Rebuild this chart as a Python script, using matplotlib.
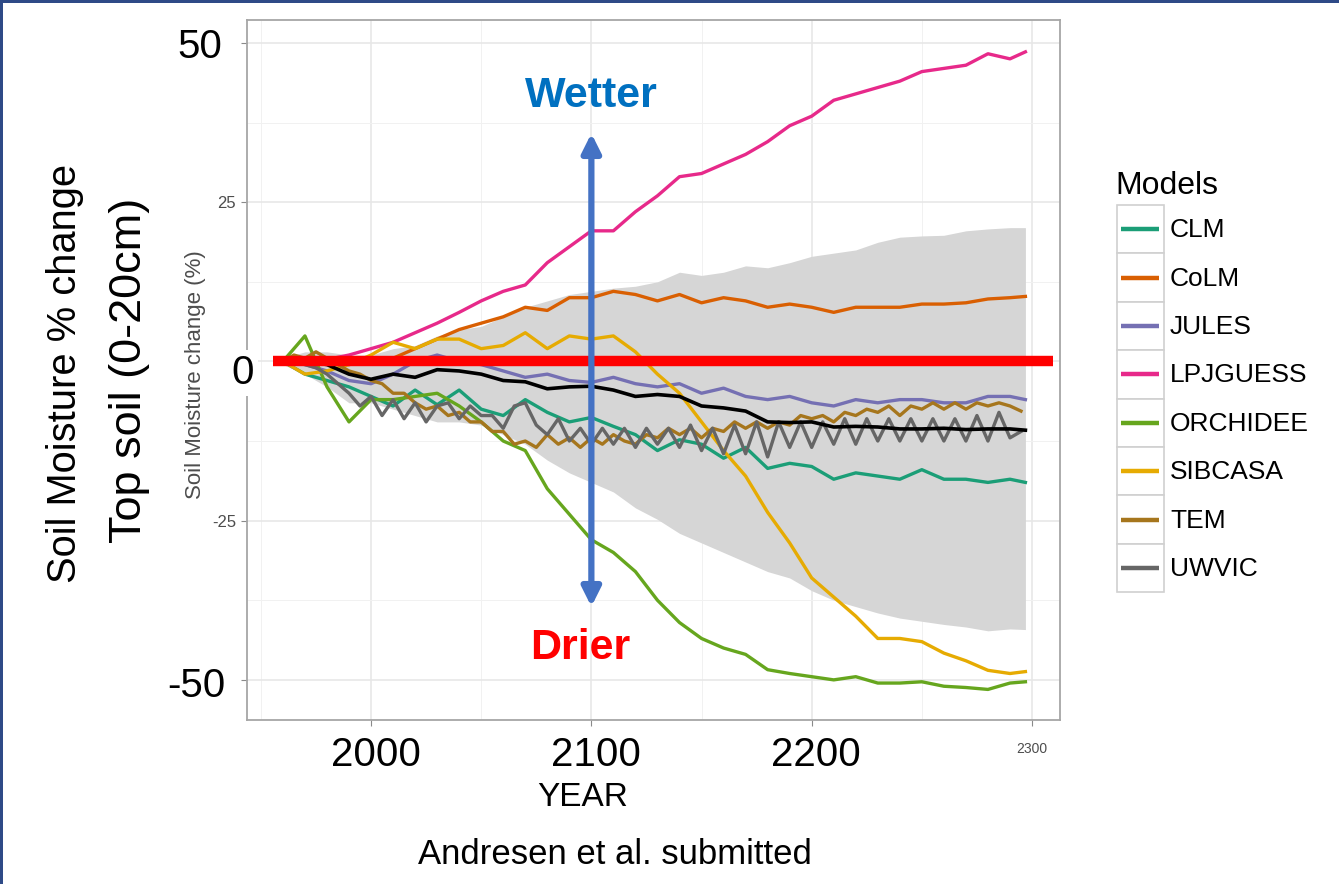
import matplotlib
matplotlib.use("Agg")
import matplotlib.pyplot as plt
from matplotlib.patches import Rectangle
import numpy as np

plt.rcParams['font.family'] = ['Liberation Sans', 'DejaVu Sans']

# 10-year grid (last point is end of run)
years = list(range(1960, 2300, 10)) + [2297]
# 5-year grid for the two oscillating models
years5 = list(range(1960, 2300, 5))

clm = [0, -2, -3, -4, -5.5, -7, -4.5, -6.8, -4.5, -7.5, -8.5, -6, -8, -9.5, -8.8, -10.2, -11.5,
       -14, -12.3, -13, -15.2, -13.5, -16.8, -16, -16.5, -18.5, -17.5, -18, -18.5, -17, -18.5,
       -18.5, -19, -18.5, -19]
colm = [0, 0.5, 0, -0.5, 0, 0.5, 2, 3.5, 5, 6, 7, 8.5, 8, 10, 10, 11, 10.5, 9.5, 10.5, 9.2, 10,
        9.5, 8.5, 9, 8.5, 7.7, 8.5, 8.5, 8.5, 9, 9, 9.2, 9.8, 10, 10.2]
jules = [0, -0.5, -1.5, -3, -3.5, -2, 0, 1, 0, -0.5, -1.5, -2.5, -2, -3, -3.3, -2.5, -3.5, -4,
         -3.5, -5, -4.2, -5.5, -6, -5.5, -6.5, -7, -6, -6.5, -6, -6, -6.5, -6.5, -5.5, -5.5, -6]
lpjguess = [0, 0, 0.3, 1, 2, 3, 4.5, 6, 7.7, 9.5, 11, 12, 15.5, 18, 20.5, 20.5, 23.5, 26, 29,
            29.5, 31, 32.5, 34.5, 37, 38.5, 41, 42, 43, 44, 45.5, 46, 46.5, 48.3, 47.5, 48.6]
orchidee = [0, 4, -4, -9.5, -6, -6, -5.5, -5, -7, -9.5, -12.5, -14, -20, -24, -28, -30, -33,
            -37.5, -41, -43.5, -45, -46, -48.4, -49, -49.5, -50, -49.5, -50.5, -50.5, -50.3,
            -51, -51.2, -51.5, -50.5, -50.3]
sibcasa = [0, -2, -1.5, -0.5, 1, 3, 2, 3.5, 3.5, 2, 2.5, 4.5, 2, 4, 3.5, 4, 1.5, -2, -5, -9.5,
           -14, -18, -23.7, -28.5, -34, -37, -40, -43.5, -43.5, -44, -45.8, -47, -48.5, -49,
           -48.7]
tem = [0, 1, 0.5, 1.5, 0.5, -0.5, -1.5, -2, -3, -3.5, -5, -5, -6.5, -7.5, -7, -8.5, -8, -9.5,
       -9.5, -11, -11, -13, -12.5, -13.5, -11.5, -13, -12, -13.5, -12, -13, -11.5, -12.5, -13,
       -11.5, -12, -10.5, -11.5, -10.5, -12, -10.5, -11, -9.5, -10.5, -9.5, -10.5, -9.5, -10,
       -8.5, -9, -8.5, -9.5, -8, -8.5, -7.5, -8, -7, -8.5, -7, -7.5, -6.5, -7.5, -6.5, -7.5,
       -6.5, -7, -6.5, -7, -7.8]
uwvic = [0, 0.5, -0.5, -1, -2, -3.5, -5, -7, -5.5, -8.5, -6, -9, -6.5, -9.5, -7, -6.5, -9, -7,
         -8.5, -8.5, -10.5, -7, -6.5, -10, -11.5, -9, -12.5, -10.5, -13, -10.5, -13, -10.5,
         -13.5, -10.5, -13, -10.5, -13.5, -10, -14, -10.5, -14.5, -10, -14.5, -9.5, -15, -9.5,
         -13.5, -9.5, -13.5, -9.5, -13, -9, -13, -9, -12.5, -9, -12.5, -9, -12.5, -9, -12.5,
         -9, -12.5, -8.5, -12.5, -8, -12, -11]

ens_mean = [0, 0, -0.5, -2, -2.8, -2, -2.5, -1.3, -1.5, -2, -3, -3.2, -4.3, -4, -3.9, -4.5,
            -5.5, -5.2, -5.5, -7, -7.3, -7.8, -9.5, -9.6, -9.5, -10.3, -10.2, -10.3, -10.6,
            -10.6, -10.5, -10.7, -10.6, -10.6, -10.8]
band_hi = [0.5, 1.5, 1.5, 1, 1, 2, 2.5, 4, 5, 5.5, 7, 8.5, 9.5, 10.5, 11, 11.5, 11.8, 12.5, 14,
           13.5, 14, 15, 14.7, 15.5, 16.5, 17, 17.5, 18.7, 19.5, 19.7, 19.8, 20.5, 20.8, 21, 21]
band_lo = [-0.5, -2, -4, -6.5, -6.5, -7.5, -8.5, -9.5, -9.5, -10, -11.5, -13, -15.5, -17.5, -19,
           -20.5, -23, -24.8, -27, -28.5, -30, -31.5, -33, -34, -36, -37.5, -38.5, -39.5, -40.3,
           -40.8, -41.3, -41.7, -42.3, -42, -42.1]

models = ["CLM", "CoLM", "JULES", "LPJGUESS", "ORCHIDEE", "SIBCASA", "TEM", "UWVIC"]
colors = ["#1B9E77", "#D95F02", "#7570B3", "#E7298A", "#66A61E", "#E6AB02", "#A6761D", "#666666"]
series = [(years, clm), (years, colm), (years, jules), (years, lpjguess), (years, orchidee),
          (years, sibcasa), (years5, tem), (years5, uwvic)]

W, H = 1339, 884
fig = plt.figure(figsize=(W / 100, H / 100), dpi=100)
ax = fig.add_axes([247 / W, 1 - 720 / H, 813 / W, 700 / H])

ax.fill_between(years, band_lo, band_hi, color="#d6d6d6", lw=0, zorder=1)
for (xs, ys), c in zip(series, colors):
    ax.plot(xs, ys, color=c, lw=2.4, zorder=2)
ax.plot(years, ens_mean, color="black", lw=2.6, zorder=3)

ax.axhline(0, xmin=0.032, xmax=0.992, color="#ff0000", lw=7.5, zorder=4, solid_capstyle="butt")
ax.annotate("", xy=(2100, 35.8), xytext=(2100, -38.5), zorder=5,
            arrowprops=dict(arrowstyle="<|-|>", color="#4472C4", lw=4.5, mutation_scale=28,
                            shrinkA=0, shrinkB=0))
ax.text(2100, 41.7, "Wetter", color="#0070C0", fontsize=31, fontweight="bold",
        ha="center", va="center", zorder=6)
ax.text(2095, -45.0, "Drier", color="#ff0000", fontsize=31, fontweight="bold",
        ha="center", va="center", zorder=6)

ax.set_xlim(1943.7, 2312.7)
ax.set_ylim(-56.3, 53.6)
ax.set_xticks([2000, 2100, 2200, 2300])
ax.set_xticks([1950, 2050, 2150, 2250], minor=True)
ax.set_yticks([-50, -25, 0, 25, 50])
ax.set_yticks([-37.5, -12.5, 12.5, 37.5], minor=True)
ax.set_xticklabels(["", "", "", "2300"])
ax.set_yticklabels(["", "-25", "", "25", ""])
ax.grid(True, which="major", color="#e6e6e6", lw=1.1, zorder=0)
ax.grid(True, which="minor", color="#f1f1f1", lw=0.7, zorder=0)
ax.set_axisbelow(True)
ax.tick_params(which="major", length=4, color="#8a8a8a", labelcolor="#4d4d4d")
ax.tick_params(axis="x", which="major", labelsize=10, pad=12)
ax.tick_params(axis="y", which="major", labelsize=12, pad=4)
ax.tick_params(which="minor", length=0)
for s in ax.spines.values():
    s.set_color("#a6a6a6")
    s.set_linewidth(1.3)

# large overlay tick labels from the slide
for yr in [2000, 2100, 2200]:
    ax.text(yr + 2, -0.05, str(yr), transform=ax.get_xaxis_transform(), fontsize=29,
            ha="center", va="center")
ax.text(-0.03, 49.4, "50", transform=ax.get_yaxis_transform(), fontsize=29, ha="right", va="center")
ax.text(-0.026, -50.9, "-50", transform=ax.get_yaxis_transform(), fontsize=29, ha="right", va="center")
ax.text(-0.005, -1.8, "0", transform=ax.get_yaxis_transform(), fontsize=29, ha="center",
        va="center", clip_on=False, zorder=7,
        bbox=dict(boxstyle="square,pad=0.1", fc="white", ec="none"))

ax.set_xlabel("YEAR", fontsize=24)
ax.xaxis.set_label_coords(0.413, -0.088)
fig.text(196 / W, 1 - 375 / H, "Soil Moisture change (%)", rotation=90, fontsize=16,
         color="#4d4d4d", ha="center", va="center")
fig.text(65 / W, 1 - 373 / H, "Soil Moisture % change", rotation=90, fontsize=28.7,
         ha="center", va="center")
fig.text(130 / W, 1 - 370 / H, "Top soil (0-20cm)", rotation=90, fontsize=32.5,
         ha="center", va="center")
fig.text(615 / W, 1 - 855 / H, "Andresen et al. submitted", fontsize=25, ha="center", va="center")

# legend drawn ggplot-style with boxed keys
lax = fig.add_axes([1100 / W, 1 - 610 / H, 239 / W, 450 / H])
lax.set_xlim(1100, 1339)
lax.set_ylim(610, 160)
lax.axis("off")
lax.text(1115, 186, "Models", fontsize=23, ha="left", va="center")
row_h = 48.4
for i, (name, c) in enumerate(zip(models, colors)):
    top = 205 + i * row_h
    lax.add_patch(Rectangle((1117, top), 47, row_h, fc="white", ec="#d0d0d0", lw=1.2))
    lax.plot([1121, 1159], [top + row_h / 2] * 2, color=c, lw=3.2, solid_capstyle="butt")
    lax.text(1170, top + row_h / 2 + 1, name, fontsize=19, ha="left", va="center")

# slide frame
fig.add_artist(Rectangle((0, 1 - 3 / H), 1, 3 / H, transform=fig.transFigure, fc="#2e4a87", ec="none"))
fig.add_artist(Rectangle((0, 0), 3 / W, 1, transform=fig.transFigure, fc="#2e4a87", ec="none"))

fig.savefig("out.png", dpi=100)
